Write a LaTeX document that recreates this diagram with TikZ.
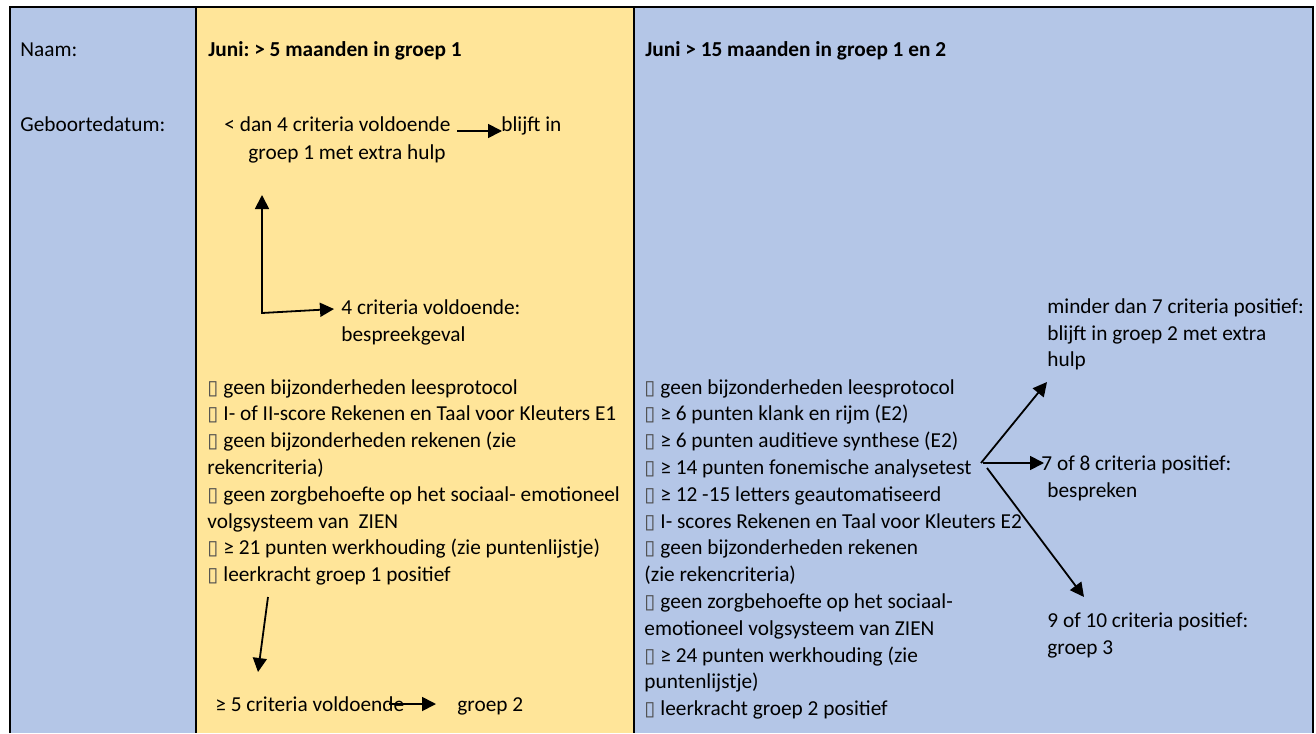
\documentclass[tikz,border=0pt]{standalone}
\usepackage{fontspec}
\setmainfont{Carlito}
\newfontfamily\symfont{DejaVu Sans}
\usetikzlibrary{arrows.meta}
\definecolor{cblue}{HTML}{B4C6E7}
\definecolor{cyellow}{HTML}{FFE599}
\frenchspacing
\newcommand\bx{\makebox[8pt][l]{\color[gray]{0.3}\symfont\fontsize{10}{10}\selectfont ▯}}
\begin{document}
\begin{tikzpicture}[x=0.5pt,y=-0.5pt,
  txt/.style={anchor=base west,inner sep=0pt,font=\fontsize{10.65}{13.4}\selectfont},
  hd/.style={txt,font=\fontsize{10.65}{13.4}\selectfont\bfseries},
  arr/.style={line width=0.9pt,-{Triangle[length=7pt,width=7pt]}},
  darr/.style={line width=0.9pt,{Triangle[length=7pt,width=7pt]}-{Triangle[length=7pt,width=7pt]}},
  tablerule/.style={line width=1pt}]
\useasboundingbox (0,0) rectangle (1316,733);
\fill[white] (0,0) rectangle (1316,733);
\fill[cblue] (10,7) rectangle (195.5,733);
\fill[cyellow] (195.5,7) rectangle (634,733);
\fill[cblue] (634,7) rectangle (1313,733);
\draw[tablerule] (10,733) -- (10,7) -- (1313,7) -- (1313,733);
\draw[tablerule] (195.5,7) -- (195.5,733);
\draw[tablerule] (634,7) -- (634,733);

% first column
\node[txt] (naam) at (20,57) {Naam:};
\node[txt] (geb) at (20,132) {Geboortedatum:};

% second column
\node[hd] (h1) at (208,57) {Juni: > 5 maanden in groep 1};
\node[txt] (lt1) at (224,132) {< dan 4 criteria voldoende};
\node[txt] (blijft) at (501,132) {blijft in};
\node[txt] (lt1b) at (248,159) {groep 1 met extra hulp};
\coordinate (a1s) at (457,131);
\coordinate (a1e) at (502,131);
\draw[arr] (a1s) -- (a1e);

\coordinate (upt) at (262,195);
\coordinate (corner) at (262,313);
\coordinate (rtt) at (334,309);
\draw[darr] (upt) -- (corner) -- (rtt);
\node[txt] (vier) at (341,314) {4 criteria voldoende:};
\node[txt] (vierb) at (341,341) {bespreekgeval};

\foreach \t [count=\i] in {
  {\bx geen bijzonderheden leesprotocol},
  {\bx I- of II-score Rekenen en Taal voor Kleuters E1},
  {\bx geen bijzonderheden rekenen (zie},
  {rekencriteria)},
  {\bx geen zorgbehoefte op het sociaal- emotioneel},
  {volgsysteem van\ \ ZIEN},
  {\bx ≥ 21 punten werkhouding (zie puntenlijstje)},
  {\bx leerkracht groep 1 positief}}
  \node[txt] (la\i) at (207,{394+26.8*(\i-1)}) {\t};

\coordinate (a2s) at (268,597);
\coordinate (a2e) at (258,672);
\draw[arr] (a2s) -- (a2e);
\node[txt] (vijf) at (215,711) {≥ 5 criteria voldoende};
\node[txt] (g2) at (457,711) {groep 2};
\coordinate (a3s) at (389,704);
\coordinate (a3e) at (436,704);
\draw[arr] (a3s) -- (a3e);

% third column
\node[hd] (h2) at (645,57) {Juni > 15 maanden in groep 1 en 2};
\foreach \t [count=\i] in {
  {\bx geen bijzonderheden leesprotocol},
  {\bx ≥ 6 punten klank en rijm (E2)},
  {\bx ≥ 6 punten auditieve synthese (E2)},
  {\bx ≥ 14 punten fonemische analysetest},
  {\bx ≥ 12 -15 letters geautomatiseerd},
  {\bx I- scores Rekenen en Taal voor Kleuters E2},
  {\bx geen bijzonderheden rekenen},
  {(zie rekencriteria)},
  {\bx geen zorgbehoefte op het sociaal-},
  {emotioneel volgsysteem van ZIEN},
  {\bx ≥ 24 punten werkhouding (zie},
  {puntenlijstje)},
  {\bx leerkracht groep 2 positief}}
  \node[txt] (lb\i) at (644,{394+26.8*(\i-1)}) {\t};

\node[txt] (minder) at (1047,313) {minder dan 7 criteria positief:};
\node[txt] (minderb) at (1047,340) {blijft in groep 2 met extra};
\node[txt] (minderc) at (1047,366) {hulp};
\node[txt] (zeven) at (1041,470) {7 of 8 criteria positief:};
\node[txt] (zevenb) at (1047,497) {bespreken};
\node[txt] (negen) at (1047,627) {9 of 10 criteria positief:};
\node[txt] (negenb) at (1047,654) {groep 3};

\coordinate (o1) at (981,463);
\coordinate (o2) at (983,463);
\coordinate (o3) at (987,468);
\coordinate (t1) at (1047,382);
\coordinate (t2) at (1044,463);
\coordinate (t3) at (1084,597);
\draw[arr] (o1) -- (t1);
\draw[arr] (o2) -- (t2);
\draw[arr] (o3) -- (t3);
\end{tikzpicture}
\end{document}
